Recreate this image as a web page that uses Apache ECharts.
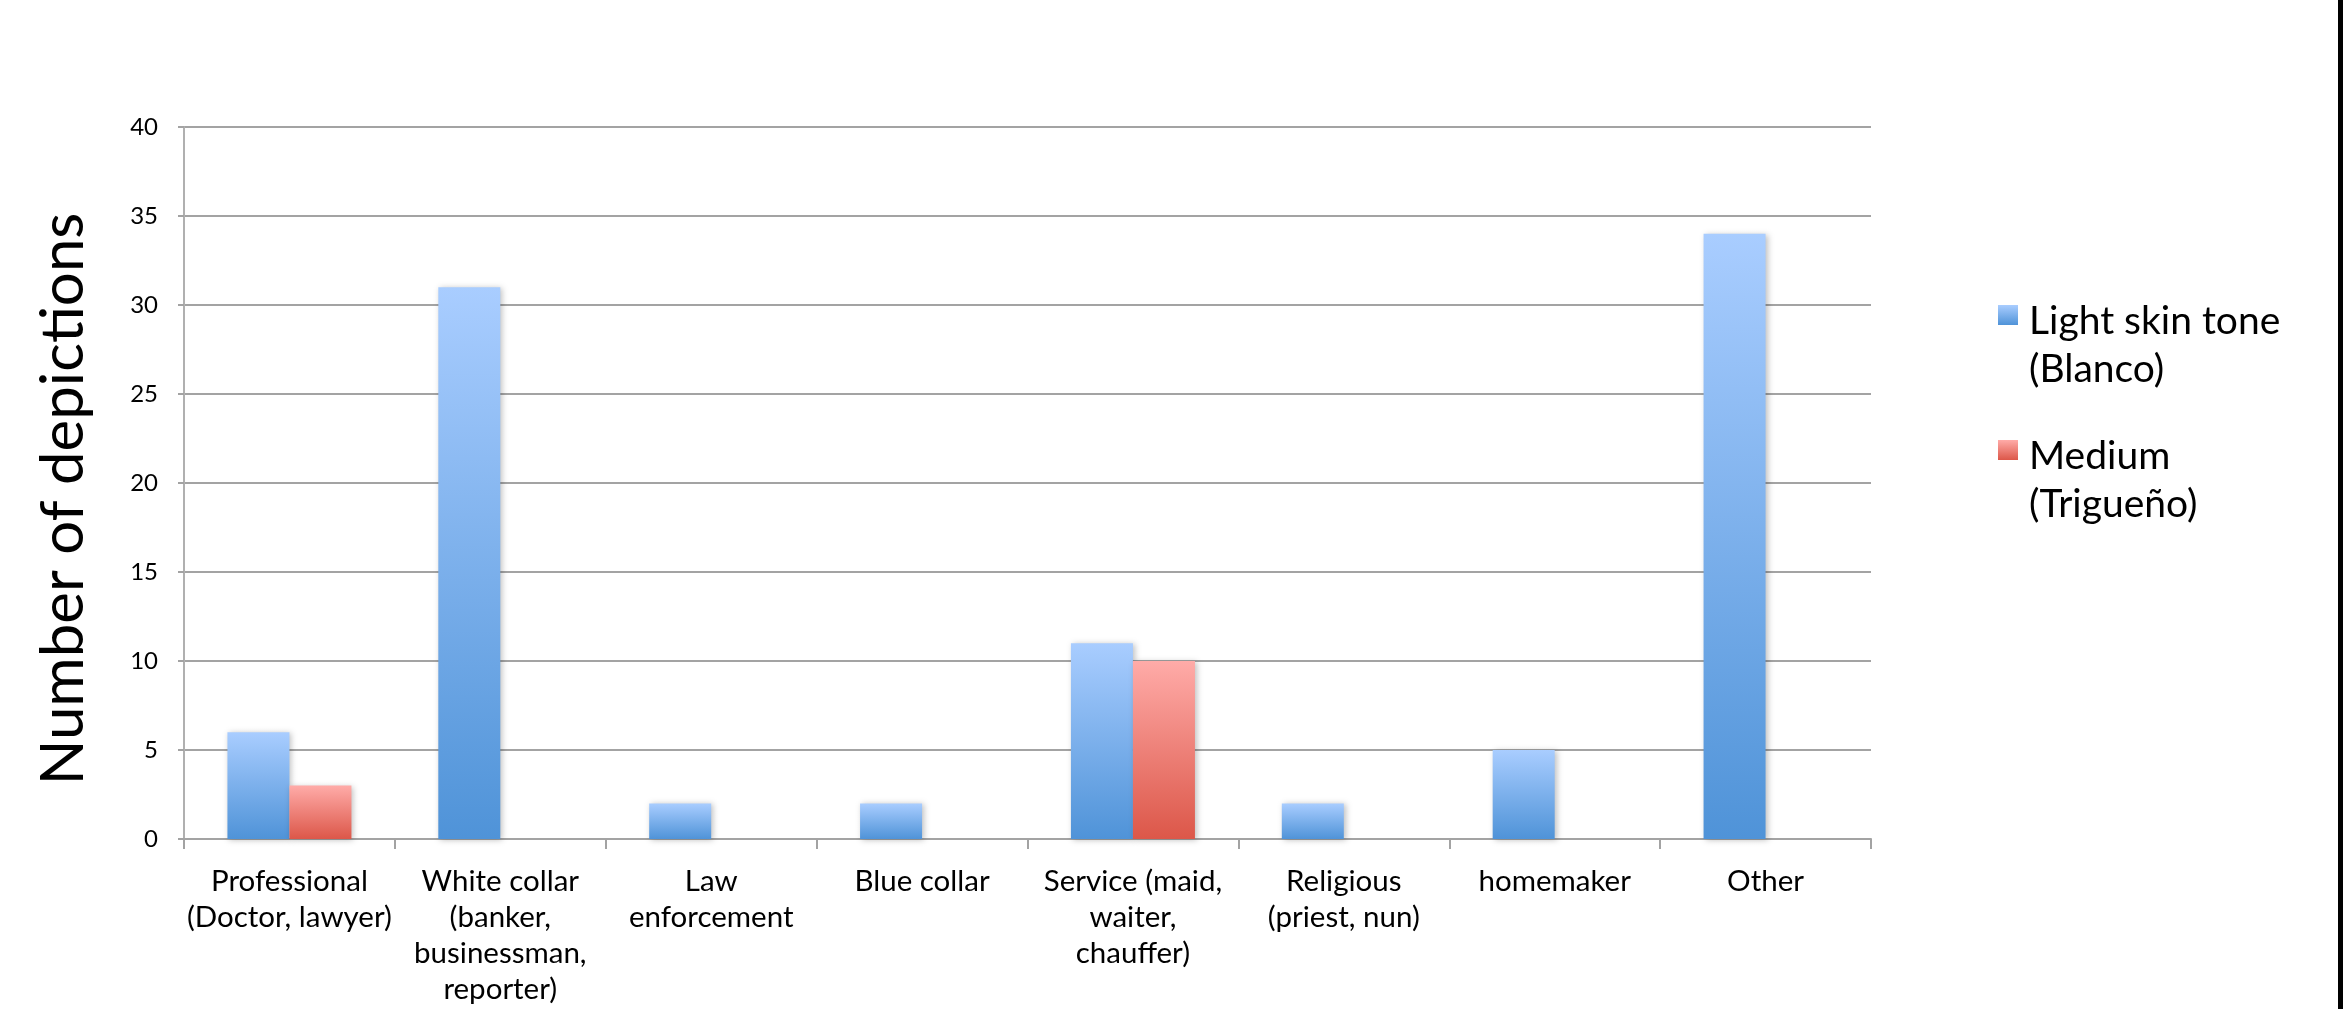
<!DOCTYPE html>
<html>
<head>
<meta charset="utf-8">
<script src="https://cdn.jsdelivr.net/npm/echarts@6/dist/echarts.min.js"></script>
<style>
  html, body { margin: 0; padding: 0; background: #fff; }
  #chart { width: 2348px; height: 1009px; }
</style>
</head>
<body>
<div id="chart"></div>
<script>
// occupation categories (x axis)
const categories = [
  'Professional\n(Doctor, lawyer)',
  'White collar\n(banker,\nbusinessman,\nreporter)',
  'Law\nenforcement',
  'Blue collar',
  'Service (maid,\nwaiter,\nchauffer)',
  'Religious\n(priest, nun)',
  'homemaker',
  'Other'
];

// counts per skin tone
const lightSkin = [6, 31, 2, 2, 11, 2, 5, 34];
const mediumSkin = [3, 0, 0, 0, 10, 0, 0, 0];

const seriesNames = ['Light skin tone\n(Blanco)', 'Medium\n(Trigueño)'];

const yTicks = { min: 0, max: 40, interval: 5 };

const FONT = 'Lato';

const grad = (top, bottom) => new echarts.graphic.LinearGradient(0, 0, 0, 1, [
  { offset: 0, color: top },
  { offset: 1, color: bottom }
]);

const BLUE = grad('#a9cdff', '#4f93d8');
const RED = grad('#ffaba8', '#dc5749');

const chart = echarts.init(document.getElementById('chart'));

// leading blank line puts the first text line level with the icon
const legendFormatter = name =>
  '\n' + name.split('\n').map(l => '{t|' + l + '}').join('\n');

const legendBase = {
  orient: 'vertical',
  left: 1998,
  padding: 0,
  icon: 'rect',
  itemWidth: 20,
  itemHeight: 20,
  formatter: legendFormatter,
  textStyle: {
    fontFamily: FONT,
    fontSize: 39,
    lineHeight: 60,
    color: '#000',
    rich: {
      t: { fontFamily: FONT, fontSize: 39, lineHeight: 48, color: '#000', padding: [0, 0, 0, 6] }
    }
  }
};

chart.setOption({
  backgroundColor: '#fff',
  animation: false,
  grid: { left: 184, right: 477, top: 127, bottom: 170 },
  legend: [
    Object.assign({ data: [seriesNames[0]], top: 237 }, legendBase),
    Object.assign({ data: [seriesNames[1]], top: 372 }, legendBase)
  ],
  xAxis: {
    type: 'category',
    data: categories,
    axisLine: { lineStyle: { color: '#a3a3a3', width: 2 } },
    axisTick: { show: true, length: 10, lineStyle: { color: '#a3a3a3', width: 2 } },
    axisLabel: {
      interval: 0,
      margin: 24,
      color: '#000',
      fontFamily: FONT,
      fontSize: 29.5,
      lineHeight: 36
    }
  },
  yAxis: {
    type: 'value',
    min: yTicks.min,
    max: yTicks.max,
    interval: yTicks.interval,
    name: 'Number of depictions',
    nameLocation: 'middle',
    nameGap: 90,
    nameTextStyle: {
      fontFamily: FONT,
      fontSize: 60,
      color: '#000',
      padding: [0, 32, 0, 0]
    },
    axisLine: { show: true, lineStyle: { color: '#b0b0b0', width: 2 } },
    axisTick: { show: true, length: 6, lineStyle: { color: '#a3a3a3', width: 2 } },
    axisLabel: { color: '#000', fontFamily: FONT, fontSize: 24, margin: 26 },
    splitLine: { lineStyle: { color: '#a3a3a3', width: 2 } }
  },
  series: [
    {
      name: seriesNames[0],
      type: 'bar',
      data: lightSkin,
      barWidth: 62,
      barGap: 0,
      itemStyle: {
        color: BLUE,
        shadowColor: 'rgba(0,0,0,0.25)',
        shadowBlur: 6,
        shadowOffsetX: 2,
        shadowOffsetY: 1
      }
    },
    {
      name: seriesNames[1],
      type: 'bar',
      data: mediumSkin,
      barWidth: 62,
      barGap: 0,
      itemStyle: {
        color: RED,
        shadowColor: 'rgba(0,0,0,0.25)',
        shadowBlur: 6,
        shadowOffsetX: 2,
        shadowOffsetY: 1
      }
    }
  ],
  graphic: [
    {
      type: 'rect',
      left: 2338,
      top: 0,
      shape: { width: 5, height: 1009 },
      style: { fill: '#000' },
      silent: true
    }
  ]
});
</script>
</body>
</html>
